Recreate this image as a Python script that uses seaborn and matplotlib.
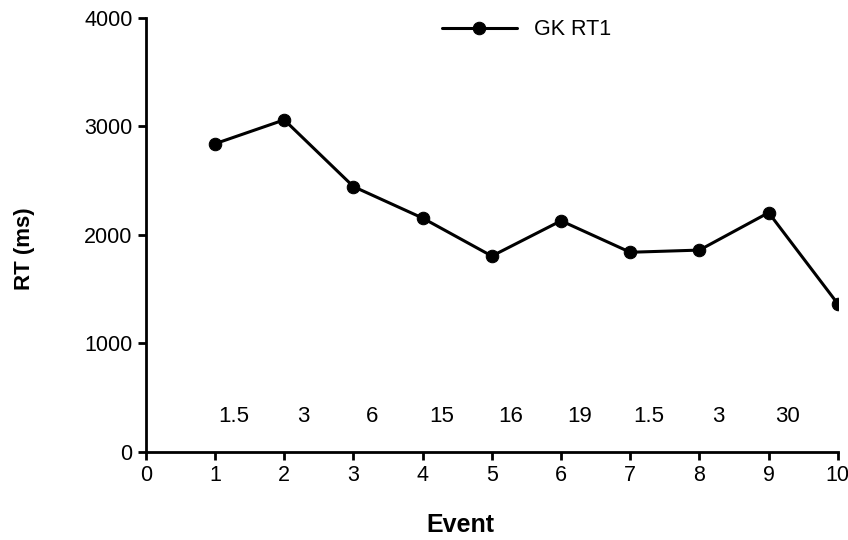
import matplotlib
matplotlib.use("Agg")
import matplotlib.pyplot as plt
import seaborn as sns
import pandas as pd

events = [1, 2, 3, 4, 5, 6, 7, 8, 9, 10]
rt_values = [2840, 3060, 2445, 2155, 1805, 2130, 1840, 1860, 2205, 1365]
series_name = "GK RT1"
annotations = ["1.5", "3", "6", "15", "16", "19", "1.5", "3", "30"]

sns.set_style("ticks")
plt.rcParams['font.family'] = ['Liberation Sans', 'DejaVu Sans']
plt.rcParams['text.color'] = 'black'
plt.rcParams['axes.labelcolor'] = 'black'
plt.rcParams['xtick.color'] = 'black'
plt.rcParams['ytick.color'] = 'black'
plt.rcParams['axes.edgecolor'] = 'black'

df = pd.DataFrame({"Event": events, "RT": rt_values, "series": series_name})

fig = plt.figure(figsize=(8.48, 5.4), dpi=100)
ax = fig.add_axes([0.172, 0.163, 0.816, 0.804])

sns.lineplot(data=df, x="Event", y="RT", hue="series", palette=["black"],
             marker="o", markersize=9, linewidth=2.2, markeredgecolor="black",
             ax=ax)

for i, lab in enumerate(annotations):
    ax.text(events[i] + 0.27, 325, lab, ha="center", va="center", fontsize=16,
            color="black")

ax.set_xlim(0, 10)
ax.set_ylim(0, 4000)
ax.set_xticks(range(0, 11))
ax.set_yticks([0, 1000, 2000, 3000, 4000])
ax.tick_params(axis="both", labelsize=15.5, width=2, length=6, direction="out",
               colors="black")
for s in ["left", "bottom"]:
    ax.spines[s].set_linewidth(2)
sns.despine(ax=ax)
ax.spines["left"].set_bounds(0, 4000)

ax.set_xlabel("Event", fontsize=18, fontweight="bold")
ax.set_ylabel("RT (ms)", fontsize=16, fontweight="bold")
ax.xaxis.set_label_coords(0.454, -0.168)
ax.yaxis.set_label_coords(-0.175, 0.468)
ax.xaxis.label.set_va("center")
ax.yaxis.label.set_va("center")

leg = ax.legend(loc="center", bbox_to_anchor=(0.55, 0.972), frameon=False,
                fontsize=15.5, handlelength=3.5, title=None)

fig.savefig("out.png", dpi=100)
